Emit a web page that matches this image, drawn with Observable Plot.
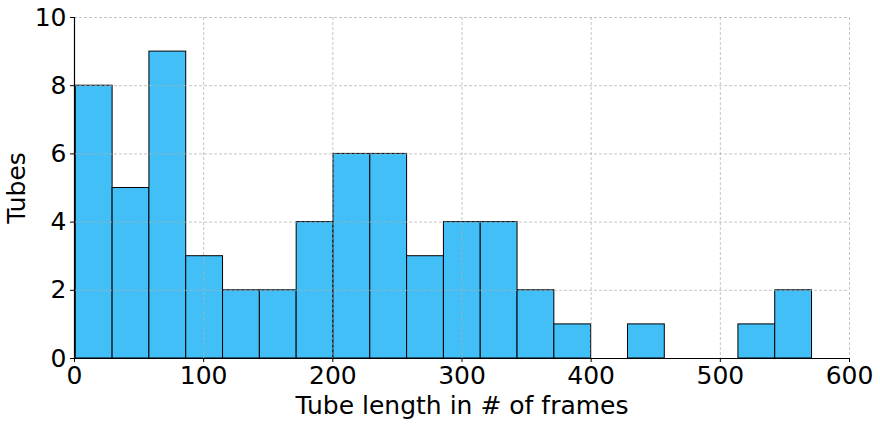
<!DOCTYPE html>
<html>
<head>
<meta charset="utf-8">
<script src="https://cdn.jsdelivr.net/npm/d3@7"></script>
<script src="https://cdn.jsdelivr.net/npm/@observablehq/plot@0.6"></script>
<style>
  html, body { margin: 0; padding: 0; background: #fff; }
  #chart svg { display: block; }
</style>
</head>
<body>
<div id="chart"></div>
<script>
// Histogram bins (tube length in # of frames) and counts
const binStart = 1;
const binWidth = 28.5;
const counts = [8, 5, 9, 3, 2, 2, 4, 6, 6, 3, 4, 4, 2, 1, 0, 1, 0, 0, 1, 2];
const xTicks = [0, 100, 200, 300, 400, 500, 600];
const yTicks = [0, 2, 4, 6, 8, 10];
const xLabel = "Tube length in # of frames";
const yLabel = "Tubes";

const bins = counts.map((c, i) => ({
  x1: binStart + i * binWidth,
  x2: binStart + (i + 1) * binWidth,
  count: c
})).filter(d => d.count > 0);

const fontSize = 25;

const chart = Plot.plot({
  width: 880,
  height: 424,
  marginLeft: 74,
  marginRight: 31,
  marginTop: 17,
  marginBottom: 66,
  style: { fontFamily: "DejaVu Sans", fontSize: fontSize + "px", color: "#000", background: "#fff" },
  x: { domain: [0, 600] },
  y: { domain: [0, 10] },
  marks: [
    Plot.rectY(bins, { x1: "x1", x2: "x2", y: "count", fill: "#42bff7", stroke: "#000", strokeWidth: 1 }),
    Plot.ruleX(xTicks, { stroke: "#b0b0b0", strokeDasharray: "3,2", strokeWidth: 0.8, strokeOpacity: 0.9 }),
    Plot.ruleY(yTicks, { stroke: "#b0b0b0", strokeDasharray: "3,2", strokeWidth: 0.8, strokeOpacity: 0.9 }),
    Plot.axisX({ ticks: xTicks, tickSize: 4, tickPadding: 4, tickFormat: d => String(d), label: null, fontSize: fontSize, strokeWidth: 1 }),
    Plot.axisY({ ticks: yTicks, tickSize: 4, tickPadding: 4, tickFormat: d => String(d), label: null, fontSize: fontSize, strokeWidth: 1 }),
    Plot.ruleY([0], { stroke: "#000", strokeWidth: 1.2 }),
    Plot.ruleX([0], { stroke: "#000", strokeWidth: 1.2 }),
    Plot.text([xLabel], { frameAnchor: "bottom", dy: 55, text: d => d, fontSize: fontSize, textAnchor: "middle" }),
    Plot.text([yLabel], { frameAnchor: "left", dx: -58, rotate: -90, text: d => d, fontSize: fontSize, textAnchor: "middle", lineAnchor: "middle" })
  ]
});
document.getElementById("chart").appendChild(chart);
</script>
</body>
</html>
